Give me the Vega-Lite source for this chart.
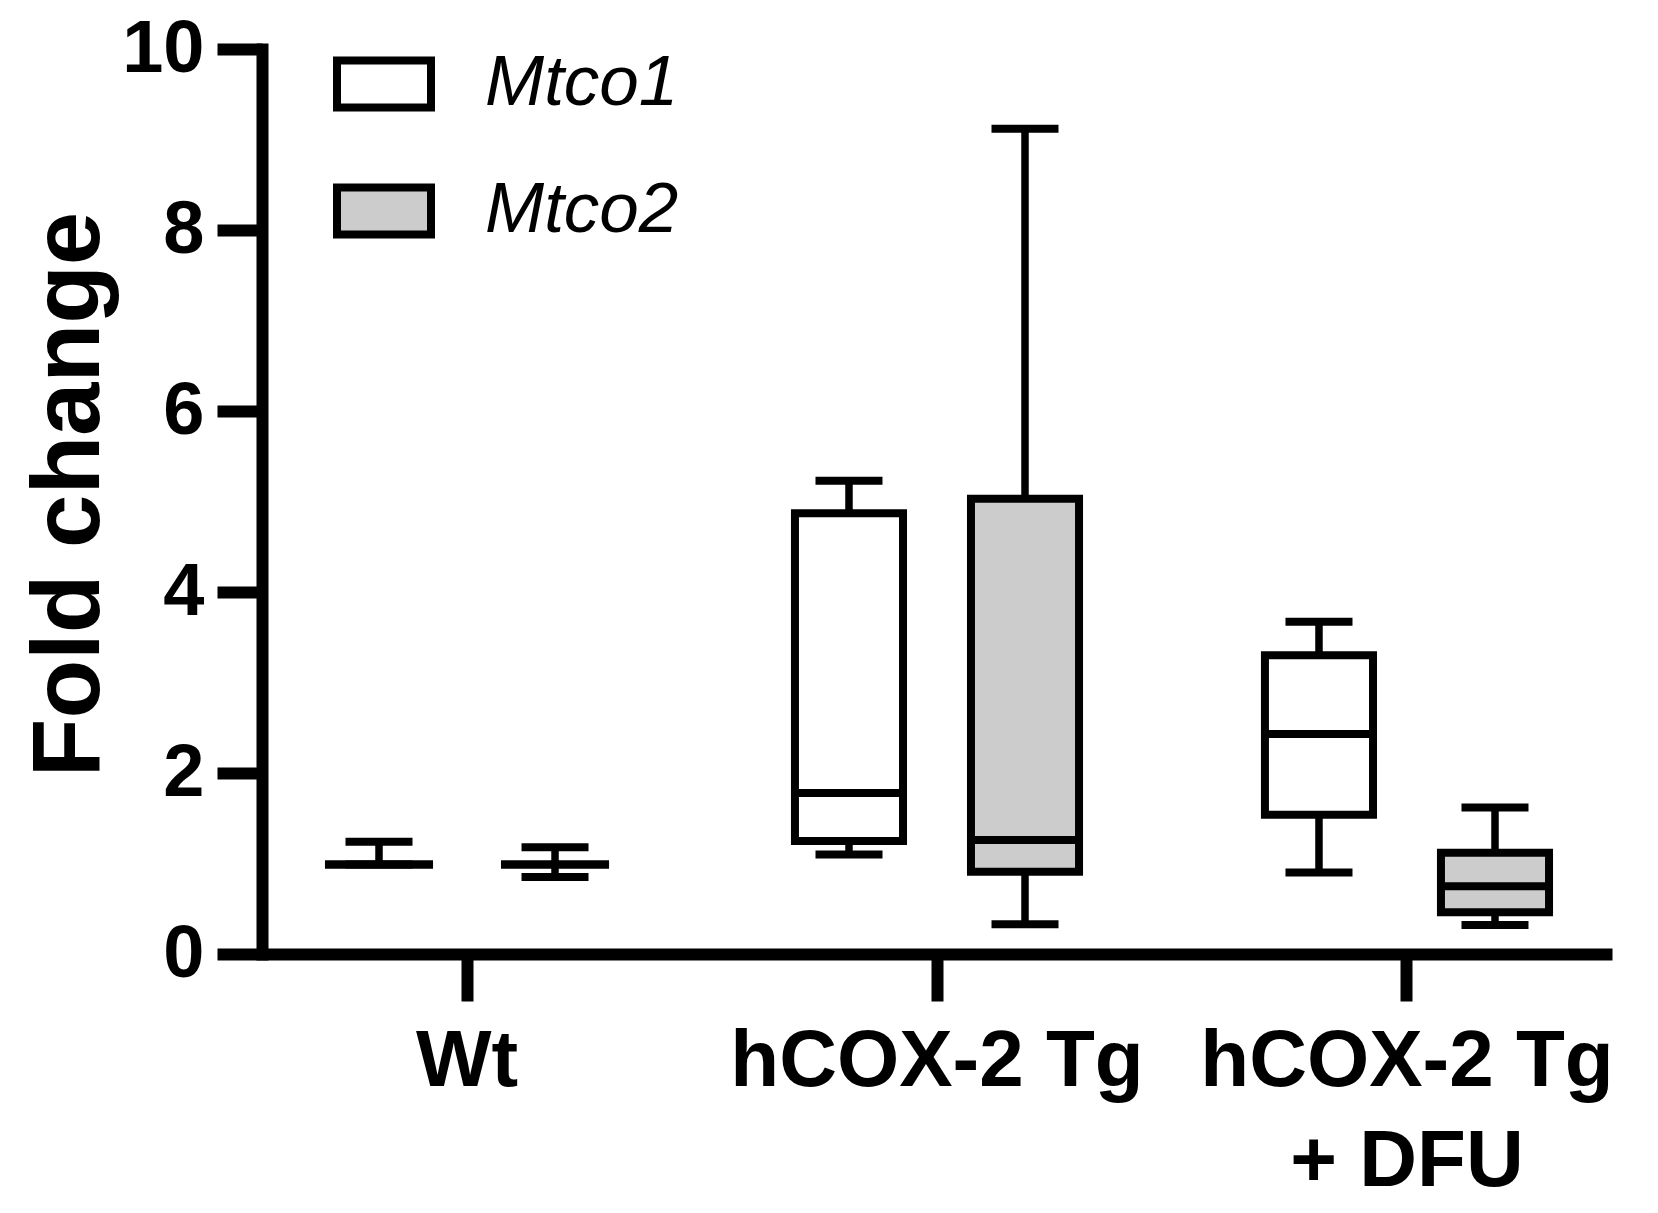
{
  "$schema": "https://vega.github.io/schema/vega-lite/v6.json",
  "width": 1350,
  "height": 905,
  "autosize": {"type": "none"},
  "padding": {"left": 262, "top": 49, "right": 46, "bottom": 259},
  "background": "white",
  "config": {"view": {"stroke": null}},
  "data": {
    "values": [
      {"group": "Wt", "gene": "Mtco1", "min": 0.99, "q1": 0.99, "median": 0.99, "q3": 0.99, "max": 1.24},
      {"group": "Wt", "gene": "Mtco2", "min": 0.85, "q1": 0.99, "median": 0.99, "q3": 0.99, "max": 1.18},
      {"group": "hCOX-2 Tg", "gene": "Mtco1", "min": 1.1, "q1": 1.25, "median": 1.78, "q3": 4.87, "max": 5.23},
      {"group": "hCOX-2 Tg", "gene": "Mtco2", "min": 0.33, "q1": 0.91, "median": 1.26, "q3": 5.03, "max": 9.12},
      {"group": "hCOX-2 Tg + DFU", "gene": "Mtco1", "min": 0.9, "q1": 1.54, "median": 2.43, "q3": 3.3, "max": 3.67},
      {"group": "hCOX-2 Tg + DFU", "gene": "Mtco2", "min": 0.32, "q1": 0.46, "median": 0.75, "q3": 1.12, "max": 1.62}
    ]
  },
  "encoding": {
    "x": {
      "field": "group",
      "type": "nominal",
      "sort": ["Wt", "hCOX-2 Tg", "hCOX-2 Tg + DFU"],
      "scale": {"paddingInner": 0.251, "paddingOuter": 0.0617},
      "axis": {
        "title": null,
        "labelAngle": 0,
        "labelExpr": "datum.label == 'hCOX-2 Tg + DFU' ? ['hCOX-2 Tg', '+ DFU'] : datum.label",
        "domainWidth": 12,
        "domainColor": "black",
        "domainCap": "butt",
        "tickWidth": 12,
        "tickColor": "black",
        "tickSize": 47,
        "labelFont": "Liberation Sans",
        "labelFontWeight": "bold",
        "labelFontSize": 80,
        "labelColor": "black",
        "labelPadding": 21,
        "labelLineHeight": 100,
        "labelBaseline": "top",
        "labelLimit": 1000,
        "grid": false
      }
    },
    "xOffset": {
      "field": "gene",
      "type": "nominal",
      "sort": ["Mtco1", "Mtco2"],
      "scale": {"paddingInner": 0.386, "paddingOuter": 0.193}
    }
  },
  "layer": [
    {
      "mark": {"type": "rule", "color": "black", "strokeWidth": 7.5},
      "encoding": {
        "y": {
          "field": "min",
          "type": "quantitative",
          "scale": {"domain": [0, 10], "nice": false},
          "axis": {
            "title": "Fold change",
            "values": [0, 2, 4, 6, 8, 10],
            "format": "d",
            "grid": false,
            "domainWidth": 12,
            "domainColor": "black",
            "domainCap": "square",
            "tickWidth": 12,
            "tickColor": "black",
            "tickSize": 45,
            "labelFont": "Liberation Sans",
            "labelFontWeight": "bold",
            "labelFontSize": 74,
            "labelColor": "black",
            "labelPadding": 13,
            "titleFont": "Liberation Sans",
            "titleFontWeight": "bold",
            "titleFontSize": 96,
            "titleColor": "black",
            "titleAngle": -90,
            "titleX": -164,
            "titleY": 445,
            "titleAlign": "center",
            "titleBaseline": "alphabetic",
            "titleLimit": 2000
          }
        },
        "y2": {"field": "max"}
      }
    },
    {
      "mark": {"type": "bar", "stroke": "black", "strokeWidth": 8, "opacity": 1},
      "encoding": {
        "y": {"field": "q1", "type": "quantitative"},
        "y2": {"field": "q3"},
        "fill": {
          "field": "gene",
          "type": "nominal",
          "scale": {"domain": ["Mtco1", "Mtco2"], "range": ["#ffffff", "#cccccc"]},
          "legend": {
            "title": null,
            "orient": "none",
            "legendX": 71,
            "legendY": -16,
            "padding": 0,
            "symbolType": "M-1,-0.5H1V0.5H-1Z",
            "symbolSize": 8836,
            "symbolStrokeColor": "black",
            "symbolStrokeWidth": 8,
            "symbolOpacity": 1,
            "labelFont": "Liberation Sans",
            "labelFontSize": 71,
            "labelFontStyle": "italic",
            "labelColor": "black",
            "labelOffset": 50,
            "labelLimit": 1000,
            "rowPadding": 36
          }
        }
      }
    },
    {
      "mark": {"type": "tick", "color": "black", "size": 108, "thickness": 8, "opacity": 1},
      "encoding": {"y": {"field": "median", "type": "quantitative"}}
    },
    {
      "mark": {"type": "tick", "color": "black", "size": 67, "thickness": 8, "opacity": 1},
      "encoding": {"y": {"field": "max", "type": "quantitative"}}
    },
    {
      "mark": {"type": "tick", "color": "black", "size": 67, "thickness": 8, "opacity": 1},
      "encoding": {"y": {"field": "min", "type": "quantitative"}}
    }
  ]
}
